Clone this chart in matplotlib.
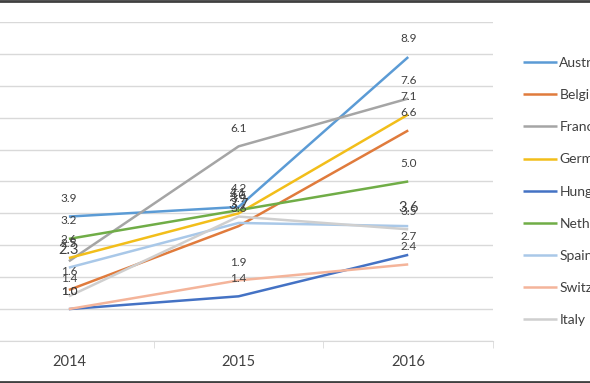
import matplotlib
matplotlib.use("Agg")
import matplotlib.pyplot as plt
from matplotlib.lines import Line2D

plt.rcParams['font.family'] = ['Lato', 'DejaVu Sans']

years = ["2014", "2015", "2016"]
countries = ["Austria", "Belgium", "France", "Germany", "Hungary",
             "Netherlands", "Spain", "Switzerland", "Italy"]
austria = [3.9, 4.2, 8.9]
belgium = [1.6, 3.6, 6.6]
france = [2.5, 6.1, 7.6]
germany = [2.6, 4.0, 7.1]
hungary = [1.0, 1.4, 2.7]
netherlands = [3.2, 4.1, 5.0]
spain = [2.3, 3.7, 3.6]
switzerland = [1.0, 1.9, 2.4]
italy = [1.4, 3.9, 3.5]

series = [austria, belgium, france, germany, hungary,
          netherlands, spain, switzerland, italy]
colors = ["#5B9BD5", "#E07B3C", "#A5A5A5", "#F2BE1A", "#4472C4",
          "#70AD47", "#A9C8E8", "#F4B49A", "#CFCFCF"]

fig = plt.figure(figsize=(5.9, 3.83), dpi=100)
# the chart is cropped on the left, so the axes start slightly off the figure
ax = fig.add_axes([-0.027, 0.1097, 0.8627, 0.833])

x = range(len(years))
for i in range(len(series)):
    ax.plot(x, series[i], color=colors[i], lw=1.8, label=countries[i],
            solid_capstyle="butt")

# data labels above the points (Spain's were bigger in the original)
for i in range(len(series)):
    size = 10.5 if countries[i] == "Spain" else 8.5
    for j in range(len(years)):
        ax.annotate("%.1f" % series[i][j], (j, series[i][j]),
                    textcoords="offset points", xytext=(0, 13),
                    ha="center", va="center", fontsize=size, color="#404040")

ax.set_xlim(-0.5, 2.5)
ax.set_ylim(0, 10)
ax.set_yticks(range(0, 11))
ax.yaxis.grid(True, color="#D9D9D9", lw=1)
ax.set_axisbelow(True)
ax.tick_params(axis="y", left=False, labelleft=False)
ax.set_xticks(list(x))
ax.set_xticklabels(years, fontsize=10.5, color="#404040")
ax.set_xticks([0.5, 1.5, 2.5], minor=True)
ax.tick_params(axis="x", which="major", length=0, pad=10)
ax.tick_params(axis="x", which="minor", length=5, color="#D9D9D9", direction="out")
for s in ["top", "right", "left"]:
    ax.spines[s].set_visible(False)
ax.spines["bottom"].set_color("#D9D9D9")

fig.legend(loc="upper left", bbox_to_anchor=(0.887, 0.851), frameon=False,
           fontsize=10, handlelength=2.4, handletextpad=0.2, labelspacing=1.45,
           borderaxespad=0, borderpad=0, labelcolor="#404040")

# frame edges of the original picture
fig.add_artist(Line2D([0, 1], [0.998, 0.998], color="#404040", lw=2))
fig.add_artist(Line2D([0, 1], [0.002, 0.002], color="#404040", lw=2))

plt.savefig("out.png")
